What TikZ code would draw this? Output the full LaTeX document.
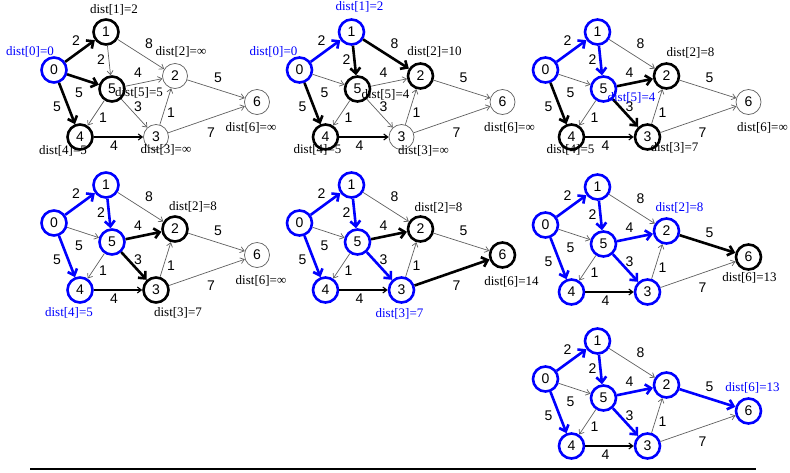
\documentclass[tikz,border=0pt]{standalone}
\usepackage{fontspec}
\setmainfont{Liberation Serif}
\newfontfamily\chiffres{Liberation Sans}
\usetikzlibrary{arrows.meta}
\definecolor{dijBleu}{RGB}{0,0,255}
\definecolor{dijGris}{RGB}{95,95,95}

% graphe de base, etiquettes de sommets et poids
\newcommand{\graphe}[1]{%
  \node[som,s0] (#1-0) at (54,70)   {0};
  \node[som,s1] (#1-1) at (106,32)  {1};
  \node[som,s2] (#1-2) at (175,76)  {2};
  \node[som,s3] (#1-3) at (156,137) {3};
  \node[som,s4] (#1-4) at (80,137)  {4};
  \node[som,s5] (#1-5) at (112,89)  {5};
  \node[som,s6] (#1-6) at (257,102) {6};
  \draw[fleche,a01] (#1-0) -- (#1-1);
  \draw[fleche,a05] (#1-0) -- (#1-5);
  \draw[fleche,a04] (#1-0) -- (#1-4);
  \draw[fleche,a15] (#1-1) -- (#1-5);
  \draw[fleche,a12] (#1-1) -- (#1-2);
  \draw[fleche,a52] (#1-5) -- (#1-2);
  \draw[fleche,a53] (#1-5) -- (#1-3);
  \draw[fleche]     (#1-5) -- (#1-4);
  \draw[fleche,noir] (#1-4) -- (#1-3);
  \draw[fleche]     (#1-3) -- (#1-2);
  \draw[fleche,a26] (#1-2) -- (#1-6);
  \draw[fleche,a36] (#1-3) -- (#1-6);
  \node[val] (#1-p01) at (76,41)   {2};
  \node[val] (#1-p05) at (79,93)   {5};
  \node[val] (#1-p04) at (57,107)  {5};
  \node[val] (#1-p15) at (101,60)  {2};
  \node[val] (#1-p12) at (149,44)  {8};
  \node[val] (#1-p52) at (138,73)  {4};
  \node[val] (#1-p53) at (138,107) {3};
  \node[val] (#1-p54) at (103,118) {1};
  \node[val] (#1-p32) at (171,113) {1};
  \node[val] (#1-p43) at (114,146) {4};
  \node[val] (#1-p26) at (218,78)  {5};
  \node[val] (#1-p36) at (211,133) {7};
}

\begin{document}
\begin{tikzpicture}[
  x=1pt, y=-1pt,
  som/.style={circle, draw=dijGris, line width=0.7pt, minimum size=25pt, inner sep=0pt,
              font=\chiffres\fontsize{14}{14}\selectfont},
  fait/.style={draw=dijBleu, line width=2.6pt},
  cand/.style={draw=black, line width=2.6pt},
  fleche/.style={-{Straight Barb[length=4pt,width=6pt]}, draw=dijGris, line width=0.7pt},
  arbre/.style={-{Straight Barb[length=5.5pt,width=10pt]}, draw=dijBleu, line width=2.6pt},
  maj/.style={-{Straight Barb[length=5.5pt,width=10pt]}, draw=black, line width=2.6pt},
  noir/.style={draw=black, line width=1.1pt},
  val/.style={font=\chiffres\fontsize{14}{14}\selectfont},
  dist/.style={font=\fontsize{13}{13}\selectfont},
  distb/.style={dist, text=dijBleu},
  s0/.style={}, s1/.style={}, s2/.style={}, s3/.style={},
  s4/.style={}, s5/.style={}, s6/.style={},
  a01/.style={}, a05/.style={}, a04/.style={}, a15/.style={}, a12/.style={},
  a52/.style={}, a53/.style={}, a26/.style={}, a36/.style={}
]
\useasboundingbox (0,0) rectangle (790,472);

% etape 1
\begin{scope}[s0/.style=fait, s1/.style=cand, s5/.style=cand, s4/.style=cand,
              a01/.style=maj, a05/.style=maj, a04/.style=maj]
\graphe{g1}
\node[distb] (g1-d0) at (30,52)    {dist[0]=0};
\node[dist]  (g1-d1) at (114,10)   {dist[1]=2};
\node[dist]  (g1-d2) at (181,52)   {dist[2]=∞};
\node[dist]  (g1-d5) at (139,93)   {dist[5]=5};
\node[dist]  (g1-d4) at (63,151)   {dist[4]=5};
\node[dist]  (g1-d3) at (166,150)  {dist[3]=∞};
\node[dist]  (g1-d6) at (251,128)  {dist[6]=∞};
\end{scope}

% etape 2
\begin{scope}[shift={(245.5,0)}, s0/.style=fait, s1/.style=fait, s5/.style=cand,
              s4/.style=cand, s2/.style=cand,
              a01/.style=arbre, a15/.style=maj, a12/.style=maj, a04/.style=maj]
\graphe{g2}
\node[distb] (g2-d0) at (28,52)    {dist[0]=0};
\node[distb] (g2-d1) at (114,7)    {dist[1]=2};
\node[dist]  (g2-d2) at (189,52)   {dist[2]=10};
\node[dist]  (g2-d5) at (140,95)   {dist[5]=4};
\node[dist]  (g2-d4) at (72,150)   {dist[4]=5};
\node[dist]  (g2-d3) at (178,150.5) {dist[3]=∞};
\node[dist]  (g2-d6) at (264,128)  {dist[6]=∞};
\end{scope}

% etape 3
\begin{scope}[shift={(491.5,0)}, s0/.style=fait, s1/.style=fait, s5/.style=fait,
              s4/.style=cand, s2/.style=cand, s3/.style=cand,
              a01/.style=arbre, a15/.style=arbre, a04/.style=maj, a52/.style=maj, a53/.style=maj]
\graphe{g3}
\node[dist]  (g3-d2) at (199,53)   {dist[2]=8};
\node[distb] (g3-d5) at (140,98)   {dist[5]=4};
\node[dist]  (g3-d4) at (79,150)   {dist[4]=5};
\node[dist]  (g3-d3) at (183,148)  {dist[3]=7};
\node[dist]  (g3-d6) at (271,128)  {dist[6]=∞};
\end{scope}

% etape 4
\begin{scope}[shift={(0,153)}, s0/.style=fait, s1/.style=fait, s5/.style=fait,
              s4/.style=fait, s2/.style=cand, s3/.style=cand,
              a01/.style=arbre, a15/.style=arbre, a04/.style=arbre, a52/.style=maj, a53/.style=maj]
\graphe{g4}
\node[dist]  (g4-d2) at (193,54)   {dist[2]=8};
\node[distb] (g4-d4) at (69,160)   {dist[4]=5};
\node[dist]  (g4-d3) at (178,160)  {dist[3]=7};
\node[dist]  (g4-d6) at (261,128)  {dist[6]=∞};
\end{scope}

% etape 5
\begin{scope}[shift={(245.5,153)}, s0/.style=fait, s1/.style=fait, s5/.style=fait,
              s4/.style=fait, s3/.style=fait, s2/.style=cand, s6/.style=cand,
              a01/.style=arbre, a15/.style=arbre, a04/.style=arbre, a53/.style=arbre,
              a52/.style=maj, a36/.style=maj]
\graphe{g5}
\node[dist]  (g5-d2) at (193,55)   {dist[2]=8};
\node[distb] (g5-d3) at (154,161)  {dist[3]=7};
\node[dist]  (g5-d6) at (266,129)  {dist[6]=14};
\end{scope}

% etape 6
\begin{scope}[shift={(491.5,155)}, s0/.style=fait, s1/.style=fait, s5/.style=fait,
              s4/.style=fait, s3/.style=fait, s2/.style=fait, s6/.style=cand,
              a01/.style=arbre, a15/.style=arbre, a04/.style=arbre, a53/.style=arbre,
              a52/.style=arbre, a26/.style=maj]
\graphe{g6}
\node[distb] (g6-d2) at (188,53)   {dist[2]=8};
\node[dist]  (g6-d6) at (258,123)  {dist[6]=13};
\end{scope}

% etape 7
\begin{scope}[shift={(491.5,309)}, s0/.style=fait, s1/.style=fait, s5/.style=fait,
              s4/.style=fait, s3/.style=fait, s2/.style=fait, s6/.style=fait,
              a01/.style=arbre, a15/.style=arbre, a04/.style=arbre, a53/.style=arbre,
              a52/.style=arbre, a26/.style=arbre]
\graphe{g7}
\node[distb] (g7-d6) at (261,79)   {dist[6]=13};
\end{scope}

\draw[line width=2.6pt] (30,469) -- (756,469);

\end{tikzpicture}
\end{document}
